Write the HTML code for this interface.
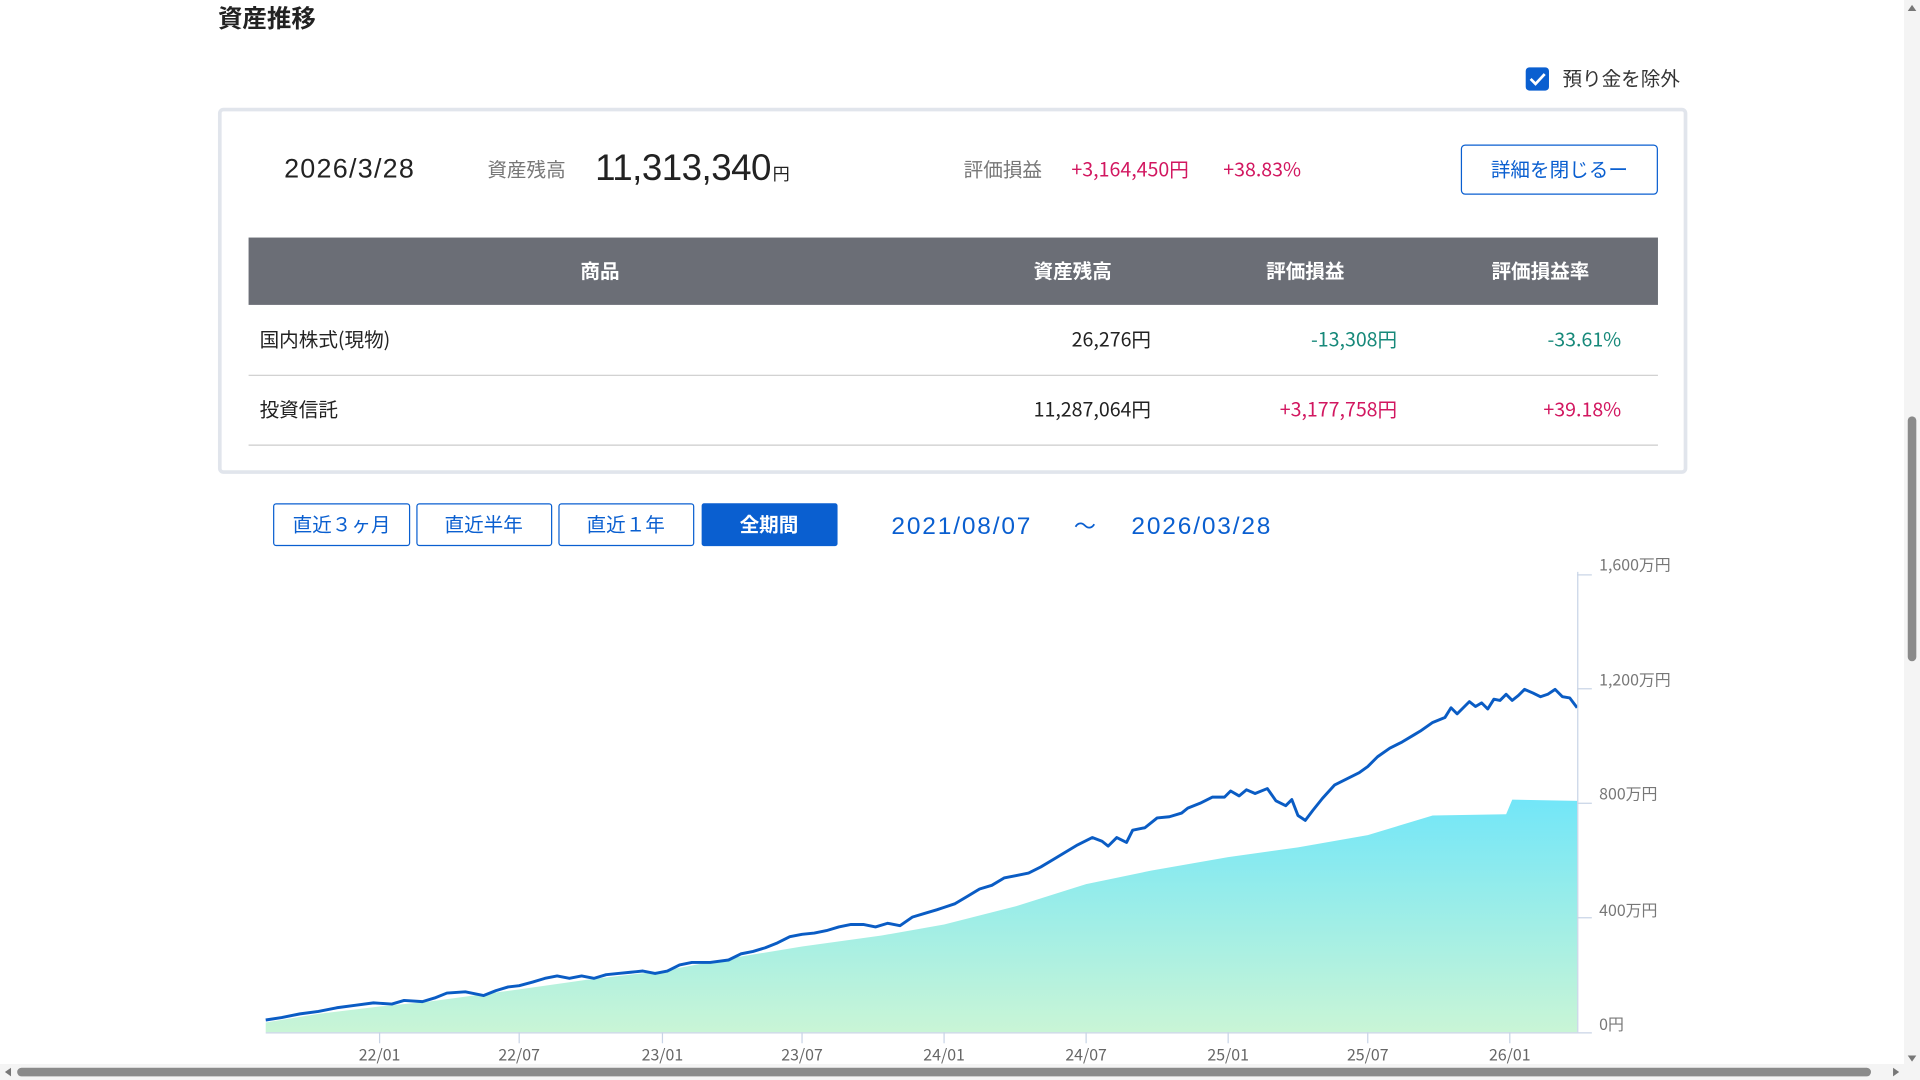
<!DOCTYPE html>
<html><head><meta charset="utf-8"><style>
html,body{margin:0;padding:0;background:#fff;overflow:hidden}
svg{display:block}
text{font-family:"Liberation Sans","Noto Sans CJK JP",sans-serif}
.j{font-family:"Noto Sans CJK JP","Liberation Sans",sans-serif}
</style></head><body>
<svg width="1920" height="1080" viewBox="0 0 1568 882" xmlns="http://www.w3.org/2000/svg">
<defs>
<linearGradient id="g" x1="0" y1="0" x2="0" y2="1">
<stop offset="0" stop-color="#72e6f8"/><stop offset="1" stop-color="#c9f5d6"/>
</linearGradient>
</defs>
<text class="j" x="178" y="22" font-size="20" font-weight="bold" fill="#222">資産推移</text>
<rect x="1246" y="55" width="19" height="19" rx="3" fill="#0a5fd0"/>
<path d="M1250 64.5 l4 4 l7.5 -8" stroke="#fff" stroke-width="2.2" fill="none"/>
<text class="j" x="1276" y="70" font-size="16" fill="#333">預り金を除外</text>
<rect x="179.5" y="89.5" width="1197" height="296" rx="3" fill="#fff" stroke="#e1e5ec" stroke-width="3"/>
<text x="232" y="145" font-size="22" fill="#222" textLength="106">2026/3/28</text>
<text class="j" x="398" y="144" font-size="16" fill="#777">資産残高</text>
<text x="486" y="147" font-size="30" fill="#222" textLength="144">11,313,340</text>
<text class="j" x="631" y="147" font-size="14" fill="#222">円</text>
<text class="j" x="787" y="144" font-size="16" fill="#777">評価損益</text>
<text x="875" y="144" font-size="16" fill="#d21760" class="j">+3,164,450円</text>
<text x="999" y="144" font-size="16" fill="#d21760" class="j">+38.83%</text>
<rect x="1193.5" y="118.5" width="160" height="40" rx="3" fill="#fff" stroke="#0a5fd0"/>
<text class="j" x="1273.5" y="144" font-size="16" fill="#0a5fd0" text-anchor="middle">詳細を閉じるー</text>
<rect x="203" y="194" width="1151" height="55" fill="#6b6e76"/>
<g class="j" font-size="16" font-weight="bold" fill="#fff">
<text x="490" y="227" text-anchor="middle" class="j">商品</text>
<text x="908" y="227" text-anchor="end" class="j">資産残高</text>
<text x="1066" y="227" text-anchor="middle" class="j">評価損益</text>
<text x="1258" y="227" text-anchor="middle" class="j">評価損益率</text>
</g>
<g class="j" font-size="16">
<text x="212" y="283" fill="#222" class="j">国内株式(現物)</text>
<text x="940" y="283" fill="#222" text-anchor="end" class="j">26,276円</text>
<text x="1141" y="283" fill="#17897a" text-anchor="end" class="j">-13,308円</text>
<text x="1324" y="283" fill="#17897a" text-anchor="end" class="j">-33.61%</text>
<text x="212" y="340" fill="#222" class="j">投資信託</text>
<text x="940" y="340" fill="#222" text-anchor="end" class="j">11,287,064円</text>
<text x="1141" y="340" fill="#d21760" text-anchor="end" class="j">+3,177,758円</text>
<text x="1324" y="340" fill="#d21760" text-anchor="end" class="j">+39.18%</text>
</g>
<line x1="203" y1="306.5" x2="1354" y2="306.5" stroke="#ccc"/>
<line x1="203" y1="363.5" x2="1354" y2="363.5" stroke="#ccc"/>
<g class="j" font-size="16" fill="#0a5fd0">
<rect x="223.5" y="411.5" width="111" height="34" rx="2" fill="#fff" stroke="#0a5fd0"/>
<text x="279" y="434" text-anchor="middle" class="j">直近３ヶ月</text>
<rect x="340.5" y="411.5" width="110" height="34" rx="2" fill="#fff" stroke="#0a5fd0"/>
<text x="395" y="434" text-anchor="middle" class="j">直近半年</text>
<rect x="456.5" y="411.5" width="110" height="34" rx="2" fill="#fff" stroke="#0a5fd0"/>
<text x="511" y="434" text-anchor="middle" class="j">直近１年</text>
<rect x="573" y="411" width="111" height="35" rx="2" fill="#0a5fd0"/>
<text x="628" y="434" text-anchor="middle" fill="#fff" font-weight="bold" class="j">全期間</text>
</g>
<text x="728" y="436" font-size="20" fill="#0a5fd0" letter-spacing="1.5">2021/08/07</text>
<text x="877" y="436" font-size="18" fill="#0a5fd0">～</text>
<text x="924" y="436" font-size="20" fill="#0a5fd0" letter-spacing="1.5">2026/03/28</text>
<!-- chart -->
<polygon fill="url(#g)" points="217,835 260,828 310,822 350,818 424,808 480,800 541,793 600,782 655,773 720,764 771,755 830,740 887,722 940,711 1003,700 1060,692 1117,682 1170,666 1230,665 1235,653 1288,654 1288,843 217,843"/>
<polyline fill="none" stroke="#0a5cc4" stroke-width="2.4" stroke-linejoin="round" points="217,833 230,831 245,828 260,826 275,823 290,821 305,819 320,820 330,817 345,818 355,815 365,811 380,810 395,813 405,809 415,806 424,805 435,802 445,799 455,797 465,799 475,797 485,799 495,796 505,795 515,794 525,793 535,795 545,793 555,788 565,786 580,786 595,784 605,779 615,777 625,774 635,770 645,765 655,763 665,762 675,760 685,757 695,755 705,755 715,757 725,754 735,756 745,749 755,746 765,743 771,741 780,738 790,732 800,726 810,723 820,717 830,715 840,713 850,708 860,702 870,696 880,690 892,684 900,687 905,691 912,684 920,688 925,678 935,676 945,668 955,667 965,664 970,660 980,656 990,651 1000,651 1005,646 1012,650 1018,645 1025,648 1035,644 1042,654 1050,658 1055,653 1060,666 1066,670 1072,662 1080,652 1090,641 1100,636 1110,631 1117,626 1125,618 1135,611 1145,606 1155,600 1160,597 1170,590 1175,588 1180,586 1185,578 1190,583 1200,573 1205,577 1210,574 1215,579 1220,571 1225,572 1230,567 1235,572 1240,568 1245,563 1252,566 1258,569 1264,567 1270,563 1276,569 1282,570 1288,578"/>
<line x1="1288.5" y1="467" x2="1288.5" y2="843" stroke="#c8d4e6"/>
<line x1="217" y1="843.5" x2="1300" y2="843.5" stroke="#c8d4e6"/>
<g stroke="#c8d4e6">
<line x1="1288" y1="469.5" x2="1300" y2="469.5"/><line x1="1288" y1="562.5" x2="1300" y2="562.5"/>
<line x1="1288" y1="656" x2="1300" y2="656"/><line x1="1288" y1="749.5" x2="1300" y2="749.5"/>
<line x1="310" y1="843" x2="310" y2="852"/><line x1="424" y1="843" x2="424" y2="852"/>
<line x1="541" y1="843" x2="541" y2="852"/><line x1="655" y1="843" x2="655" y2="852"/>
<line x1="771" y1="843" x2="771" y2="852"/><line x1="887" y1="843" x2="887" y2="852"/>
<line x1="1003" y1="843" x2="1003" y2="852"/><line x1="1117" y1="843" x2="1117" y2="852"/>
<line x1="1233" y1="843" x2="1233" y2="852"/>
</g>
<g class="j" font-size="13" fill="#777">
<text x="1306" y="466" class="j">1,600万円</text>
<text x="1306" y="560" class="j">1,200万円</text>
<text x="1306" y="653" class="j">800万円</text>
<text x="1306" y="748" class="j">400万円</text>
<text x="1306" y="841" class="j">0円</text>
</g>
<g class="j" font-size="13" fill="#666" text-anchor="middle">
<text x="310" y="866" class="j">22/01</text><text x="424" y="866" class="j">22/07</text>
<text x="541" y="866" class="j">23/01</text><text x="655" y="866" class="j">23/07</text>
<text x="771" y="866" class="j">24/01</text><text x="887" y="866" class="j">24/07</text>
<text x="1003" y="866" class="j">25/01</text><text x="1117" y="866" class="j">25/07</text>
<text x="1233" y="866" class="j">26/01</text>
</g>
<!-- scrollbars -->
<rect x="1555" y="0" width="13" height="870" fill="#f4f4f4"/>
<rect x="1558" y="340" width="7" height="200" rx="3.5" fill="#8a8a8a"/>
<path d="M1558 9 l3.5 -5 l3.5 5z M1558 862 l3.5 5 l3.5 -5z" fill="#777"/>
<rect x="0" y="869" width="1568" height="13" fill="#f4f4f4"/>
<rect x="14" y="872" width="1514" height="7" rx="3.5" fill="#8a8a8a"/>
<path d="M9 872 l-5 3.5 l5 3.5z M1546 872 l5 3.5 l-5 3.5z" fill="#777"/>
</svg>
</body></html>
